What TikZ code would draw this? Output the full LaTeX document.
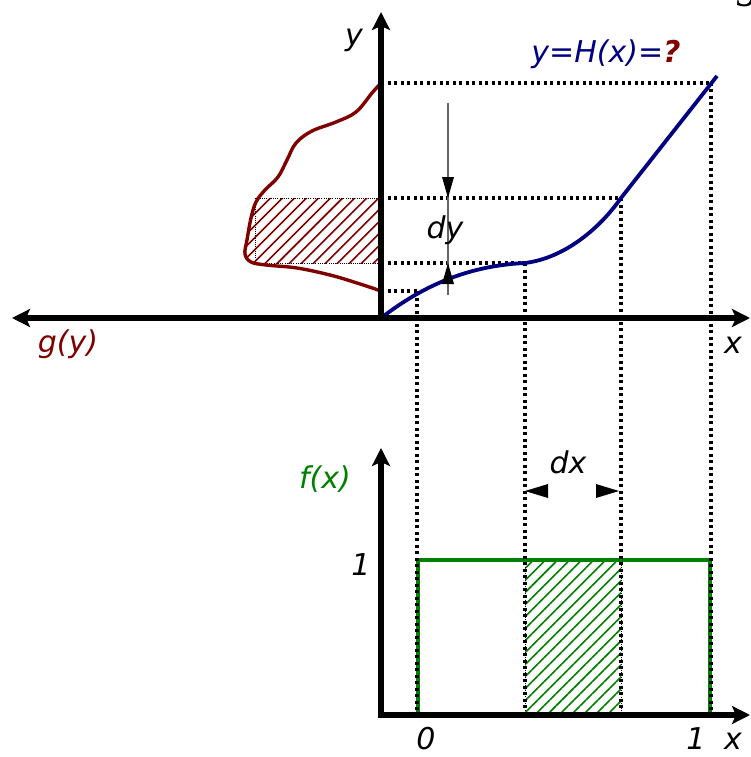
\documentclass[tikz,border=0pt]{standalone}
\usepackage{fontspec}
\setmainfont{DejaVu Sans}
\newfontfamily\serifg{Liberation Serif}
\usetikzlibrary{arrows.meta,patterns.meta}
\definecolor{dred}{RGB}{128,0,0}
\definecolor{navyb}{RGB}{0,0,128}
\definecolor{gr}{RGB}{0,128,0}
\begin{document}
\begin{tikzpicture}[x=1pt,y=-1pt,
  lbl/.style={font=\fontsize{30}{36}\selectfont\itshape, inner sep=0pt, anchor=base},
  dots/.style={line width=3.2pt, dash pattern=on 3pt off 3.5pt},
  fine/.style={line width=1pt, dash pattern=on 1pt off 1.2pt},
  hatch/.style={pattern={Lines[angle=45,distance=8.5pt,line width=1.6pt]}},
  >={Stealth[length=18pt,width=18pt,inset=4pt]},
  axis/.style={line width=5.5pt, line join=miter}]
\useasboundingbox (0,0) rectangle (751,757);
% coordinates
\coordinate (O) at (381,318);
\coordinate (ytop) at (381,12);
\coordinate (xl) at (12,318);
\coordinate (xr) at (750,318);
\coordinate (O2) at (381,715);
\coordinate (ytop2) at (381,448);
\coordinate (xr2) at (750,715);
\coordinate (Ptop) at (711,83);
\coordinate (P3) at (621,198);
\coordinate (P2) at (525,263);
\coordinate (P1) at (417,291);
\coordinate (Y4) at (381,83);
\coordinate (Y3) at (381,198);
\coordinate (Y2) at (381,263);
\coordinate (Y1) at (381,291);
\coordinate (B4) at (711,715);
\coordinate (B3) at (621,715);
\coordinate (B2) at (525,715);
\coordinate (B1) at (417,715);
\def\gcurve{(381,83) (372,93) (356,112) (336,122) (312,131) (296,143) (287,160) (278,177) (265,190) (256,202) (251,218) (247,240) (245,254) (251,262) (266,265) (297,268) (330,275) (357,283) (381,291)}
% red hatch
\begin{scope}
\clip plot[smooth, tension=0.6] coordinates {\gcurve} -- cycle;
\fill[hatch, pattern color=dred] (230,198) rectangle (381,263);
\end{scope}
\draw[fine] (255,198) rectangle (381,263);
% green hatch
\fill[hatch, pattern color=gr] (525,560) rectangle (621,715);
\draw[fine] (525,560) rectangle (621,715);
% green rect
\draw[gr, line width=3.5pt] (418,715) -- (418,560) -- (710,560) -- (710,715);
% dotted guide lines
\draw[dots] (Y4) -- (Ptop);
\draw[dots] (Y3) -- (P3);
\draw[dots] (Y2) -- (P2);
\draw[dots] (Y1) -- (P1);
\draw[dots] (Ptop) -- (B4);
\draw[dots] (P3) -- (B3);
\draw[dots] (P2) -- (B2);
\draw[dots] (P1) -- (B1);
% red curve g(y)
\draw[dred, line width=3.4pt] plot[smooth, tension=0.6] coordinates {\gcurve};
% blue curve H(x)
\draw[navyb, line width=3.8pt] (O) .. controls (415,292) and (460,266) .. (P2)
  .. controls (565,258) and (600,228) .. (P3) -- (717,76);
% dy marker
\draw[black!60, line width=1.2pt] (448,103) -- (448,295);
\fill (448,198) -- (442,177) -- (454,177) -- cycle;
\fill (448,263) -- (442,284) -- (454,284) -- cycle;
% dx marker
\fill (525,491) -- (548,484) -- (548,498) -- cycle;
\fill (619,491) -- (596,484) -- (596,498) -- cycle;
% axes
\draw[axis, ->] (O) -- (ytop);
\draw[axis, <->] (xl) -- (xr);
\draw[axis, <->] (ytop2) -- (O2) -- (xr2);
% labels
\node[lbl] (ylab) at (354,46) {y};
\node[lbl, navyb] (Hlab) at (606,63) {y=H(x)=\textcolor{dred}{\bfseries ?}};
\node[lbl] (dylab) at (445,238) {dy};
\node[lbl, dred] (glab) at (68,352) {g(y)};
\node[lbl] (xlab) at (733,353) {x};
\node[lbl] (dxlab) at (568,473) {dx};
\node[lbl, gr] (flab) at (325,488) {f(x)};
\node[lbl] (one) at (361,575) {1};
\node[lbl] (zero) at (426,749) {0};
\node[lbl] (onex) at (696,749) {1};
\node[lbl] (xlab2) at (733,749) {x};
\node[font=\serifg\fontsize{44}{48}\selectfont\itshape, inner sep=0pt, anchor=base] (gcut) at (748,-2) {g};
\end{tikzpicture}
\end{document}
